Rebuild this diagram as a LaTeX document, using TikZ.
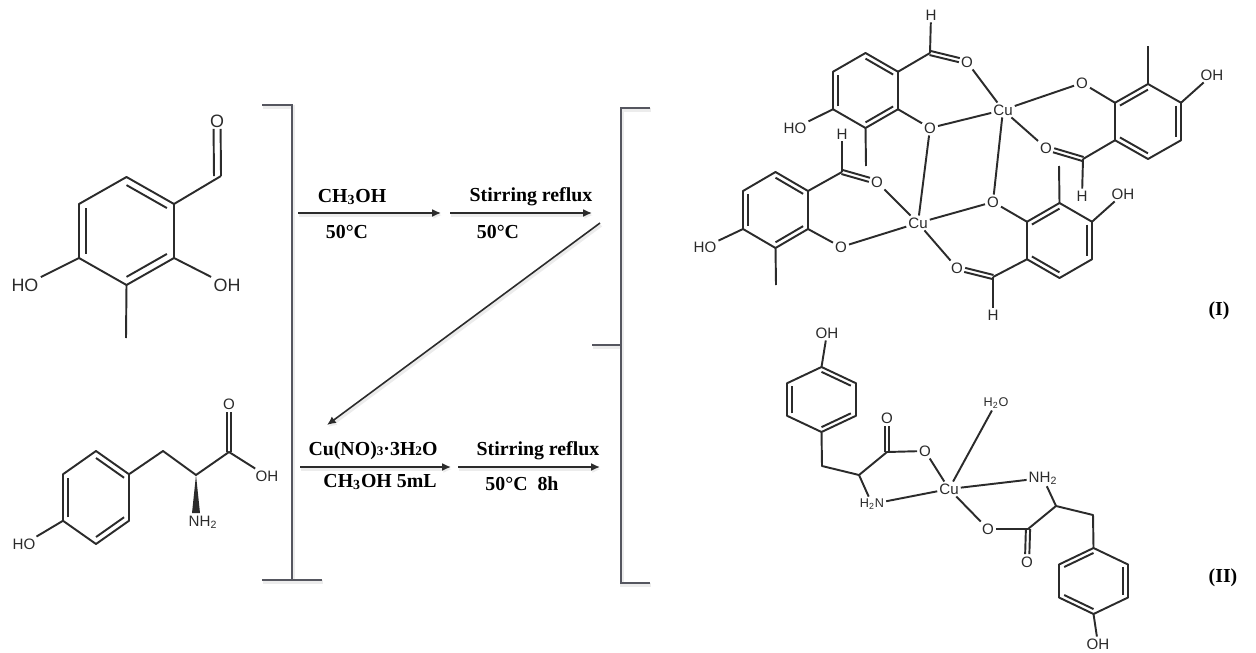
\documentclass[tikz,border=0pt]{standalone}
\usepackage{fontspec}
\setmainfont{Liberation Serif}
\newfontfamily\atomfont{Liberation Sans}
\usetikzlibrary{calc,arrows.meta}
\definecolor{bracketgray}{HTML}{55565F}
\definecolor{inkgray}{HTML}{2B2B2B}

% ring from its centre: name, cx, cy, half width, radius, inner double bonds
\newcommand{\hexring}[6]{
  \coordinate (#1c) at (#2,#3);
  \foreach \k/\dx/\dy in {1/0/-1,2/1/-0.5,3/1/0.5,4/0/1,5/-1/0.5,6/-1/-0.5}
    \coordinate (#1\k) at (#2+\dx*#4,#3+\dy*#5);
  \draw[bond] (#11) -- (#12) -- (#13) -- (#14) -- (#15) -- (#16) -- cycle;
  \foreach \a/\b in {#6}
    \draw[bond] ($(#1\a)!0.15!(#1c)$) -- ($(#1\b)!0.15!(#1c)$);
}
\newcommand{\dblbond}[3][1.2pt]{
  \draw[bond,shorten >=4.5pt] ($(#2)!#1!90:(#3)$) -- ($(#3)!#1!-90:(#2)$);
  \draw[bond,shorten >=4.5pt] ($(#2)!#1!-90:(#3)$) -- ($(#3)!#1!90:(#2)$);
}
\newcommand{\lowsub}[1]{{\fontsize{7.5}{8}\selectfont #1}}

\begin{document}
\begin{tikzpicture}
 [x=0.02cm, y=-0.02cm,
  bond/.style={draw=inkgray, line width=1.1pt, line join=round},
  faint/.style={preaction={draw=gray!15, line width=2pt, transform canvas={shift={(0.6pt,-1.2pt)}}}},
  wire/.style={draw=bracketgray, line width=1.1pt, faint},
  react/.style={draw=inkgray, line width=0.9pt, -{Latex[length=5pt,width=4.5pt]}, faint},
  cond/.style={font=\fontsize{11.3}{13}\selectfont\bfseries, inner sep=0pt},
  atomL/.style={font=\atomfont\fontsize{10.2}{12}\selectfont, text=inkgray, inner sep=1.2pt},
  atomM/.style={font=\atomfont\fontsize{8.6}{10}\selectfont, text=inkgray, inner sep=1pt},
  atomS/.style={font=\atomfont\fontsize{7.2}{9}\selectfont, text=inkgray, inner sep=1pt}]

  \useasboundingbox (0,0) rectangle (1256,652);

  % brackets
  \foreach \n/\x/\y in {la/262/105,lb/292/105,lc/292/580,ld/262/580,le/322/580,
                        ra/650/108,rb/621/108,rc/621/583,rd/650/583,re/592/345,rf/621/345}
    \coordinate (\n) at (\x,\y);
  \draw[wire] (la) -- (lb) -- (lc);
  \draw[wire] (ld) -- (le);
  \draw[wire] (re) -- (rf);
  \draw[wire] (ra) -- (rb) -- (rc) -- (rd);

  % reaction arrows
  \foreach \n/\x/\y in {aa/298/213,ab/441/213,ac/450/213,ad/592/213,ae/600/223,af/327/425,
                        ag/300/467,ah/451/467,ai/458/467,aj/600/467}
    \coordinate (\n) at (\x,\y);
  \draw[react] (aa) -- (ab);
  \draw[react] (ac) -- (ad);
  \draw[react] (ae) -- (af);
  \draw[react] (ag) -- (ah);
  \draw[react] (ai) -- (aj);

  \node[cond] (ca) at (352,197) {CH\textsubscript{3}OH};
  \node[cond] (cb) at (347,232) {50°C};
  \node[cond] (cc) at (531,197) {Stirring reflux};
  \node[cond] (cd) at (498,232) {50°C};
  \node[cond] (ce) at (373,451) {Cu(NO)\lowsub{3}·3H\lowsub{2}O};
  \node[cond] (cf) at (380,482) {CH\textsubscript{3}OH 5mL};
  \node[cond] (cg) at (538,451) {Stirring reflux};
  \node[cond] (ch) at (522,484) {50°C\ \ 8h};
  \node[cond] (one) at (1219,311) {(I)};
  \node[cond] (two) at (1223,578) {(II)};

  % aldehyde, top left
  \hexring{A}{126.5}{231}{47.5}{54}{1/2,3/4,5/6}
  \coordinate (Ac) at (221,176);
  \coordinate (Am) at (126,338);
  \node[atomL] (Ao) at (217,121) {O};
  \node[atomL] (Ah) at (227,285) {OH};
  \node[atomL] (Ai) at (25,285) {HO};
  \draw[bond] (A2) -- (Ac);
  \coordinate (Ad) at (217.5,176);
  \dblbond[2pt]{Ad}{Ao}
  \draw[bond] (A3) -- (Ah);
  \draw[bond] (A5) -- (Ai);
  \draw[bond] (A4) -- (Am);

  % tyrosine, bottom left
  \hexring{B}{96}{497.5}{33}{46.5}{1/2,3/4,5/6}
  \foreach \n/\x/\y in {Bp/163/451,Bq/196/475,Br/229/452,Bu/192/513,Bv/200/513}
    \coordinate (\n) at (\x,\y);
  \node[atomM] (Bo) at (229,404) {O};
  \node[atomM] (Bh) at (267,476) {OH};
  \node[atomM] (Bi) at (24,544) {HO};
  \node[atomM] (Bn) at (203,522) {NH\textsubscript{2}};
  \draw[bond] (B2) -- (Bp) -- (Bq) -- (Br) -- (Bh);
  \draw[bond] (B5) -- (Bi);
  \dblbond{Br}{Bo}
  \fill[inkgray] (Bq) -- (Bu) -- (Bv) -- cycle;

  % complex (I), four rings
  \hexring{C}{865.5}{90.5}{32.5}{37.5}{1/2,3/4,5/6}
  \hexring{D}{1148}{121.5}{33}{37.5}{6/1,2/3,4/5}
  \hexring{E}{1059.5}{240.5}{32.5}{37.5}{6/1,2/3,4/5}
  \hexring{F}{775.5}{210}{32.5}{38}{1/2,3/4,5/6}
  \foreach \n/\x/\y in {Ca/930/53,Cm/866/166,Da/1083/159,Dm/1148/46,
                        Ea/993/277,Em/1059/166,Fa/842/172,Fm/776/285}
    \coordinate (\n) at (\x,\y);
  \node[atomM] (cuA) at (1003,110) {Cu};
  \node[atomM] (cuB) at (918,223) {Cu};
  \foreach \n/\x/\y/\t in {Co/967/62/O,Cp/930/128/O,Ch/931/15/H,Ci/795/128/HO,
                           Do/1046/148/O,Dp/1082/83/O,Dh/1082/196/H,Di/1212/75/OH,
                           Eo/957/268/O,Ep/993/202/O,Eh/993/315/H,Ei/1123/194/OH,
                           Fo/877/182/O,Fp/841/247/O,Fh/842/134/H,Fi/705/247/HO}
    \node[atomM] (\n) at (\x,\y) {\t};
  \foreach \r/\a/\b/\c in {C/2/3/5,D/5/6/2,E/5/6/2,F/2/3/5} {
    \draw[bond] (\r\a) -- (\r a);
    \draw[bond] (\r a) -- (\r h);
    \draw[bond] (\r\b) -- (\r p);
    \draw[bond] (\r\c) -- (\r i);
  }
  \draw[bond] (C4) -- (Cm);
  \draw[bond] (D1) -- (Dm);
  \draw[bond] (E1) -- (Em);
  \draw[bond] (F4) -- (Fm);
  \dblbond{Ca}{Co}
  \dblbond{Da}{Do}
  \dblbond{Ea}{Eo}
  \dblbond{Fa}{Fo}
  \foreach \m in {Co,Cp,Do,Dp,Ep} \draw[bond] (cuA) -- (\m);
  \foreach \m in {Cp,Ep,Eo,Fo,Fp} \draw[bond] (cuB) -- (\m);

  % complex (II)
  \hexring{G}{821.5}{399.5}{34.5}{32.5}{1/2,3/4,5/6}
  \hexring{H}{1093.5}{581}{34.5}{33}{6/1,2/3,4/5}
  \foreach \n/\x/\y in {Gp/822/466,Gq/859/475,Gr/887/452,Hp/1093/515,Hq/1056/506,Hr/1028/529}
    \coordinate (\n) at (\x,\y);
  \node[atomM] (cuC) at (949,489) {Cu};
  \foreach \n/\x/\y/\t in {Gi/827/333/OH,Go/887/418/O,Gs/925/451/O,
                           Hi/1098/644/OH,Ho/1027/562/O,Hs/988/529/O}
    \node[atomM] (\n) at (\x,\y) {\t};
  \node[atomS] (Gn) at (872,504) {H\textsubscript{2}N};
  \node[atomM] (Hn) at (1043,478) {NH\textsubscript{2}};
  \node[atomS] (wat) at (996,403) {H\textsubscript{2}O};
  \draw[bond] (G1) -- (Gi);
  \draw[bond] (G4) -- (Gp) -- (Gq) -- (Gr) -- (Gs);
  \draw[bond] (Gq) -- (Gn);
  \dblbond{Gr}{Go}
  \draw[bond] (H4) -- (Hi);
  \draw[bond] (H1) -- (Hp) -- (Hq) -- (Hr) -- (Hs);
  \draw[bond] (Hq) -- (Hn);
  \dblbond{Hr}{Ho}
  \foreach \m in {Gs,Gn,Hs,Hn,wat} \draw[bond] (cuC) -- (\m);

\end{tikzpicture}
\end{document}
